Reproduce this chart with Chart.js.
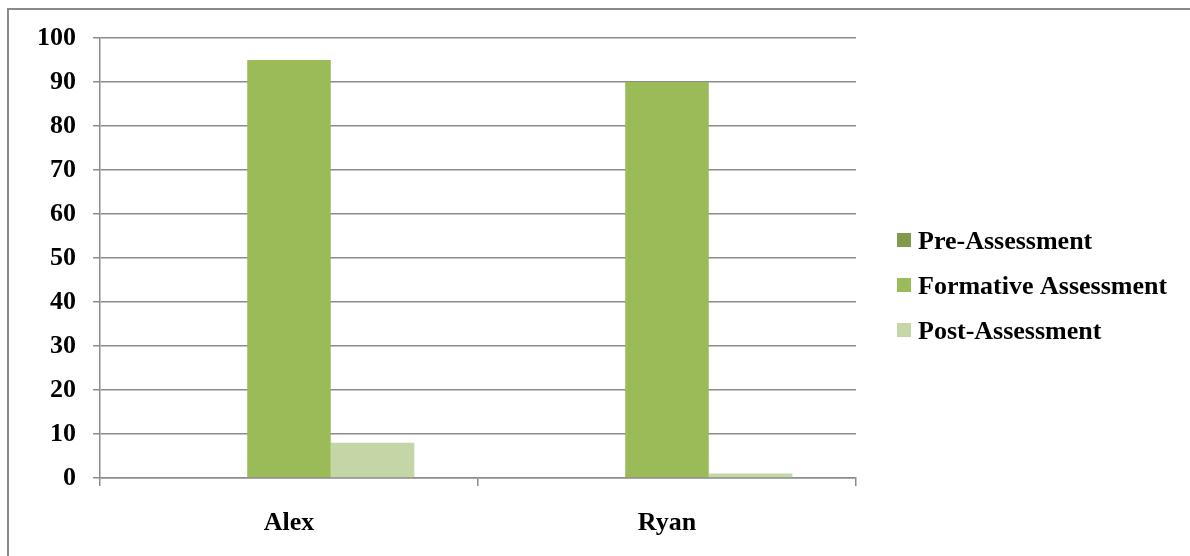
<!DOCTYPE html>
<html>
<head>
<meta charset="utf-8">
<script src="https://cdn.jsdelivr.net/npm/chart.js@4/dist/chart.umd.min.js"></script>
<style>
  html, body { margin: 0; padding: 0; background: #ffffff; }
  #wrap { width: 1190px; height: 556px; position: relative; }
</style>
</head>
<body>
<div id="wrap"><canvas id="c" width="1190" height="556"></canvas></div>
<script>
// Student scores per assessment
const categories = ['Alex', 'Ryan'];
const seriesNames = ['Pre-Assessment', 'Formative Assessment', 'Post-Assessment'];
const preAssessment = [0, 0];
const formativeAssessment = [95, 90];
const postAssessment = [8, 1];
const yTicks = [0, 10, 20, 30, 40, 50, 60, 70, 80, 90, 100];

const seriesValues = [preAssessment, formativeAssessment, postAssessment];
const seriesColors = ['#7F9A48', '#9BBB59', '#C4D6A6'];

const FONT = '"Liberation Serif", "Times New Roman", serif';
const GRID = '#8C8C8C';

// Outer frame and the legend on the right
const framePlugin = {
  id: 'frameAndLegend',
  afterDraw(chart) {
    const ctx = chart.ctx;
    ctx.save();
    ctx.strokeStyle = '#8A8A8A';
    ctx.lineWidth = 2;
    ctx.beginPath();
    ctx.moveTo(8, 556);
    ctx.lineTo(8, 9);
    ctx.lineTo(1190, 9);
    ctx.stroke();

    ctx.font = 'bold 26px ' + FONT;
    ctx.textBaseline = 'middle';
    ctx.textAlign = 'left';
    chart.data.datasets.forEach((ds, i) => {
      const cy = 240 + i * 45;
      ctx.fillStyle = ds.backgroundColor;
      ctx.fillRect(897, cy - 7, 14, 14);
      ctx.fillStyle = '#000000';
      ctx.fillText(ds.label, 918, cy + 2);
    });
    ctx.restore();
  }
};

new Chart(document.getElementById('c'), {
  type: 'bar',
  data: {
    labels: categories,
    datasets: seriesNames.map((name, i) => ({
      label: name,
      data: seriesValues[i],
      backgroundColor: seriesColors[i],
      borderWidth: 0,
      barPercentage: 1.0,
      categoryPercentage: 0.663
    }))
  },
  options: {
    responsive: false,
    animation: false,
    devicePixelRatio: 1,
    layout: { padding: { top: 38, right: 334, left: 0, bottom: 0 } },
    plugins: {
      legend: { display: false },
      tooltip: { enabled: false }
    },
    scales: {
      x: {
        offset: true,
        grid: {
          display: true,
          drawOnChartArea: false,
          offset: true,
          color: GRID,
          lineWidth: 1.5,
          tickLength: 8
        },
        border: { display: true, color: GRID, width: 1.5 },
        ticks: {
          color: '#000000',
          padding: 22,
          font: { family: FONT, size: 26, weight: 'bold' }
        },
        afterFit(scale) { scale.height = 78; }
      },
      y: {
        min: 0,
        max: 100,
        afterBuildTicks(scale) { scale.ticks = yTicks.map(v => ({ value: v })); },
        grid: {
          color: GRID,
          lineWidth: 1.5,
          tickLength: 7
        },
        border: { display: true, color: GRID, width: 1.5 },
        ticks: {
          color: '#000000',
          padding: 17,
          font: { family: FONT, size: 26, weight: 'bold' }
        },
        afterFit(scale) { scale.width = 100; }
      }
    }
  },
  plugins: [framePlugin]
});
</script>
</body>
</html>
